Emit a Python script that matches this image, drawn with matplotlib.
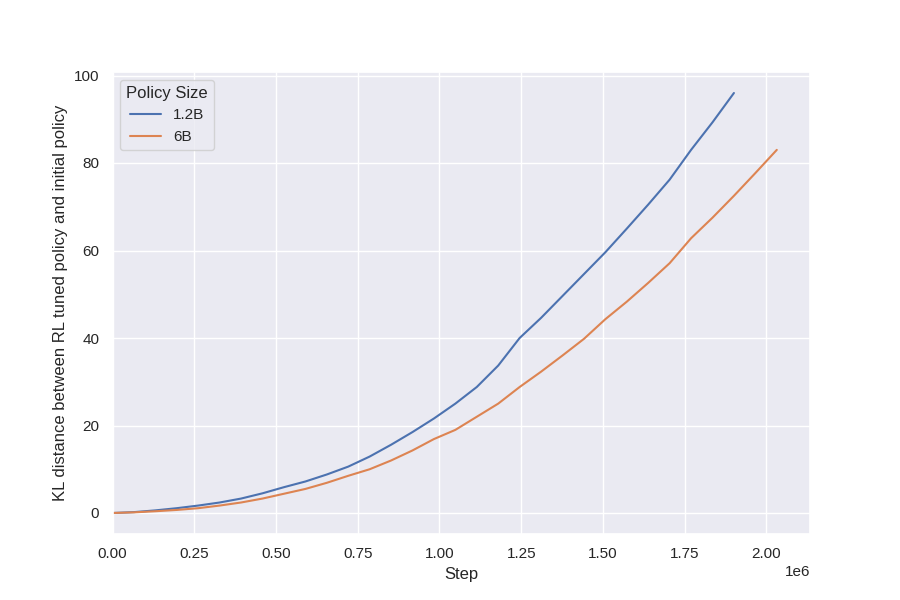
import numpy as np
import matplotlib
matplotlib.use("Agg")
import matplotlib.pyplot as plt
import seaborn as sns

sns.set_theme(style="darkgrid")
plt.rcParams['font.family'] = ['Liberation Sans', 'DejaVu Sans']

step_unit = 65536
blue_idx = list(range(30))
orange_idx = list(range(32))

kl_1_2b = [0, 0.2, 0.6, 1.1, 1.7, 2.4, 3.3, 4.5, 5.9, 7.2, 8.8, 10.6, 12.9, 15.6, 18.5,
           21.6, 25.0, 28.8, 33.7, 40.0, 44.6, 49.6, 54.6, 59.6, 65.0, 70.5, 76.2, 83.0,
           89.3, 96.0]
kl_6b = [0, 0.15, 0.4, 0.7, 1.1, 1.7, 2.4, 3.3, 4.4, 5.5, 6.9, 8.5, 10.0, 12.0, 14.3,
         16.9, 19.0, 22.0, 25.0, 28.8, 32.3, 36.0, 39.8, 44.3, 48.3, 52.6, 57.1, 62.8,
         67.5, 72.5, 77.7, 83.0]

steps_blue = np.array(blue_idx) * step_unit
steps_orange = np.array(orange_idx) * step_unit

fig, ax = plt.subplots(figsize=(9, 6), dpi=100)
ax.plot(steps_blue, kl_1_2b, label="1.2B")
ax.plot(steps_orange, kl_6b, label="6B")
ax.set_xlim(left=0)
ax.set_xlabel("Step")
ax.set_ylabel("KL distance between RL tuned policy and initial policy")
ax.legend(title="Policy Size", loc="upper left")
fig.savefig("out.png", dpi=100)
